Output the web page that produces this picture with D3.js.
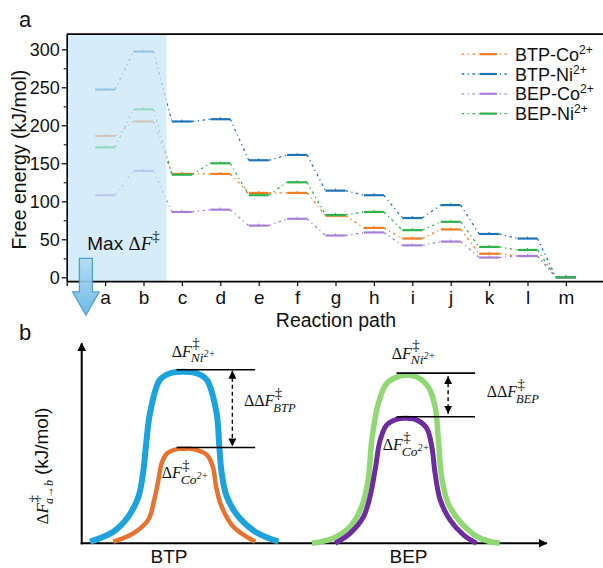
<!DOCTYPE html>
<html>
<head>
<meta charset="utf-8">
<script src="https://cdn.jsdelivr.net/npm/d3@7"></script>
<style>
  body { margin: 0; background: #fff; }
  svg { display: block; }
</style>
</head>
<body>
<svg id="fig" width="603" height="568"></svg>
<script>
// ---------- Panel a: free-energy profiles along the reaction path ----------
const categories = ["a", "b", "c", "d", "e", "f", "g", "h", "i", "j", "k", "l", "m"];
const btpCo = [186, 205, 136, 136, 111, 111, 81, 65, 51, 63, 31, 28, 0];
const btpNi = [247, 297, 205, 208, 154, 161, 114, 108, 78, 95, 57, 51, 0];
const bepCo = [108, 140, 86, 89, 68, 77, 55, 59, 42, 47, 26, 28, 0];
const bepNi = [171, 221, 135, 150, 108, 125, 82, 86, 62, 73, 40, 36, 0];
const seriesNames = ["BTP-Co", "BTP-Ni", "BEP-Co", "BEP-Ni"];
const seriesValues = [btpCo, btpNi, bepCo, bepNi];
const seriesColors = ["#f47c20", "#1f73b7", "#a680d8", "#2db34a"];
const yTicks = [0, 50, 100, 150, 200, 250, 300];
const yMinorTicks = [25, 75, 125, 175, 225, 275];
const maxStepSpan = [0, 2.6];   // highlighted a→b step, in path-index units

// ---------- Panel b: schematic barrier profiles (0–100 schematic units) ----------
const profileBtpNi = [[1.8,0.8],[6.8,5.8],[10.0,13.3],[12.2,23.3],[13.2,35.2],[13.8,48.2],[14.7,65.2],[16.8,81.7],[19.0,85.0],[21.8,85.8],[24.7,85.0],[26.9,81.7],[29.0,65.2],[29.6,48.2],[30.1,35.2],[31.2,23.3],[33.7,13.3],[37.3,5.8],[42.3,0.8]];
const profileBtpCo = [[6.8,0.8],[11.1,5.0],[14.3,11.7],[15.6,21.7],[16.5,31.7],[17.2,40.0],[18.4,45.0],[20.8,47.2],[22.2,47.3],[23.7,47.2],[26.9,44.2],[28.2,38.3],[28.9,28.3],[30.1,18.3],[32.6,8.3],[37.3,0.8]];
const profileBepNi = [[49.5,0],[54.1,2.5],[57.7,8.3],[60.2,18.3],[61.6,31.7],[62.4,51.7],[63.8,70.0],[65.6,80.0],[68.5,83.7],[69.9,84.2],[72.0,83.3],[74.5,78.3],[76.0,68.3],[76.7,51.7],[77.4,33.3],[78.8,20.0],[81.7,10.0],[85.7,2.5],[89.9,0]];
const profileBepCo = [[54.5,0],[57.7,5.0],[60.6,13.3],[62.0,23.3],[63.1,36.7],[64.2,51.7],[65.6,59.2],[67.7,62.0],[69.9,62.5],[72.0,61.7],[74.2,57.5],[75.3,48.3],[76.0,35.0],[77.1,21.7],[79.2,11.7],[82.1,4.2],[84.9,0]];
const profileGroups = ["BTP", "BEP"];

const SANS = "'Liberation Sans', Arial, sans-serif";
const SERIF = "'Liberation Serif', 'Times New Roman', serif";

const svg = d3.select("#fig");
const defs = svg.append("defs");

// ================= Panel a =================
const x = d3.scaleLinear().domain([0, 14]).range([66.7, 604.3]);
const y = d3.scaleLinear().domain([-5, 320]).range([281.1, 34.1]);
const half = 0.26;   // half-width of each level bar, in path-index units
const dashDot = "2.5,3.5,1.2,3.5";

const gA = svg.append("g");

seriesValues.forEach((vals, s) => {
  const col = seriesColors[s];
  const g = gA.append("g");
  // dash-dot connectors between consecutive states
  d3.range(vals.length - 1).forEach(i => {
    g.append("line")
      .attr("x1", x(i + 1 + half)).attr("y1", y(vals[i]))
      .attr("x2", x(i + 2 - half)).attr("y2", y(vals[i + 1]))
      .attr("stroke", col).attr("stroke-width", 1.3)
      .attr("stroke-dasharray", dashDot);
  });
  // level bars
  vals.forEach((v, i) => {
    g.append("line")
      .attr("x1", x(i + 1 - half)).attr("x2", x(i + 1 + half))
      .attr("y1", y(v)).attr("y2", y(v))
      .attr("stroke", col).attr("stroke-width", 2.2);
    g.append("line")
      .attr("x1", x(i + 1)).attr("x2", x(i + 1))
      .attr("y1", y(v) - 2).attr("y2", y(v))
      .attr("stroke", col).attr("stroke-width", 1);
  });
});

// highlighted rate-limiting step
gA.append("rect")
  .attr("x", x(maxStepSpan[0])).attr("y", y(320))
  .attr("width", x(maxStepSpan[1]) - x(maxStepSpan[0]))
  .attr("height", y(-5) - y(320))
  .attr("fill", "#c6e4f5").attr("opacity", 0.72);

// axes
const yAxis = gA.append("g").attr("transform", `translate(${x(0)},0)`)
  .call(d3.axisLeft(y).tickValues(yTicks).tickSize(5).tickSizeOuter(0).tickPadding(2));
gA.append("g").attr("transform", `translate(${x(0)},0)`)
  .call(d3.axisLeft(y).tickValues(yMinorTicks).tickSize(3).tickFormat(""))
  .call(g => g.select(".domain").remove());
const xAxis = gA.append("g").attr("transform", `translate(0,${y(-5)})`)
  .call(d3.axisBottom(x).tickValues(d3.range(0, 14)).tickSize(5).tickSizeOuter(0).tickPadding(4)
    .tickFormat(i => categories[i - 1] || ""));
[yAxis, xAxis].forEach(a => {
  a.select(".domain").attr("stroke-width", 1.6);
  a.selectAll(".tick line").attr("stroke-width", 1.2);
  a.selectAll("text").attr("font-family", SANS).attr("fill", "#111");
});
yAxis.selectAll("text").attr("font-size", 18);
xAxis.selectAll("text").attr("font-size", 19);

// top frame
gA.append("line")
  .attr("x1", x(0)).attr("x2", x(14)).attr("y1", y(320)).attr("y2", y(320))
  .attr("stroke", "#000").attr("stroke-width", 1.6);

// axis titles
gA.append("text")
  .attr("transform", `translate(26,${(y(-5) + y(320)) / 2 + 2}) rotate(-90)`)
  .attr("text-anchor", "middle").attr("font-family", SANS).attr("font-size", 19.5)
  .attr("fill", "#111").text("Free energy (kJ/mol)");
gA.append("text")
  .attr("x", 336).attr("y", 327).attr("text-anchor", "middle")
  .attr("font-family", SANS).attr("font-size", 19.5).attr("fill", "#111")
  .text("Reaction path");

// panel letter
svg.append("text").attr("x", 19).attr("y", 27).attr("font-family", SANS)
  .attr("font-size", 22).attr("fill", "#111").text("a");

// legend
const leg = gA.append("g");
seriesNames.forEach((name, s) => {
  const base = 60.7 + s * 19.8;
  const ly = base - 6.5;
  leg.append("line").attr("x1", 461.7).attr("x2", 506.7).attr("y1", ly).attr("y2", ly)
    .attr("stroke", seriesColors[s]).attr("stroke-width", 1.3).attr("stroke-dasharray", dashDot);
  leg.append("line").attr("x1", 480).attr("x2", 497).attr("y1", ly).attr("y2", ly)
    .attr("stroke", seriesColors[s]).attr("stroke-width", 2.2);
  const t = leg.append("text").attr("x", 515).attr("y", base)
    .attr("font-family", SANS).attr("font-size", 18).attr("fill", "#111");
  t.append("tspan").text(name);
  t.append("tspan").attr("dy", -7).attr("font-size", 12).text("2+");
});

// "Max ΔF‡" annotation
const maxLbl = gA.append("text").attr("x", 87.3).attr("y", 250)
  .attr("font-size", 19).attr("fill", "#111");
maxLbl.append("tspan").attr("font-family", SANS).text("Max ");
maxLbl.append("tspan").attr("font-family", SERIF).text("Δ");
maxLbl.append("tspan").attr("font-family", SERIF).attr("font-style", "italic").text("F");
maxLbl.append("tspan").attr("font-family", SERIF).attr("font-size", 15).attr("dy", -9).text("‡");

// downward arrow
const grad = defs.append("linearGradient").attr("id", "arrowFill")
  .attr("x1", 0).attr("y1", 0).attr("x2", 0).attr("y2", 1);
grad.append("stop").attr("offset", "0%").attr("stop-color", "#b5dcf3");
grad.append("stop").attr("offset", "100%").attr("stop-color", "#5fb2e3");
const ax = x(0.5), aTop = y(25), aNeck = aTop + 33.5, aTip = aTop + 57;
const arrowPath = d3.path();
arrowPath.moveTo(ax - 6.5, aTop);
arrowPath.lineTo(ax + 6.5, aTop);
arrowPath.lineTo(ax + 6.5, aNeck);
arrowPath.lineTo(ax + 13.3, aNeck);
arrowPath.lineTo(ax, aTip);
arrowPath.lineTo(ax - 13.3, aNeck);
arrowPath.lineTo(ax - 6.5, aNeck);
arrowPath.closePath();
svg.append("path").attr("d", arrowPath.toString())
  .attr("fill", "url(#arrowFill)").attr("stroke", "#3d9ad4").attr("stroke-width", 1.3)
  .attr("opacity", 0.9);

// ================= Panel b =================
const bx = d3.scaleLinear().domain([0, 100]).range([81.7, 546.7]);
const by = d3.scaleLinear().domain([0, 100]).range([543.3, 343.3]);
const gB = svg.append("g");

svg.append("text").attr("x", 19).attr("y", 340).attr("font-family", SANS)
  .attr("font-size", 22).attr("fill", "#111").text("b");

// axes with arrowheads
defs.append("marker").attr("id", "axisHead").attr("viewBox", "0 0 10 10")
  .attr("refX", 9).attr("refY", 5).attr("markerWidth", 9).attr("markerHeight", 9)
  .attr("markerUnits", "userSpaceOnUse").attr("orient", "auto")
  .append("path").attr("d", "M0,0 L10,5 L0,10 Z").attr("fill", "#000");
gB.append("line").attr("x1", bx(0)).attr("x2", bx(0)).attr("y1", by(0) + 1).attr("y2", by(100))
  .attr("stroke", "#000").attr("stroke-width", 2).attr("marker-end", "url(#axisHead)");
gB.append("line").attr("x1", bx(0) - 1).attr("x2", bx(100)).attr("y1", by(0)).attr("y2", by(0))
  .attr("stroke", "#000").attr("stroke-width", 2).attr("marker-end", "url(#axisHead)");

const profLine = d3.line().x(d => bx(d[0])).y(d => by(d[1])).curve(d3.curveCatmullRom.alpha(0.5));
const profiles = [
  { pts: profileBtpNi, color: "#1ca2dd", w: 6 },
  { pts: profileBtpCo, color: "#e9722e", w: 4.5 },
  { pts: profileBepNi, color: "#8fd873", w: 5.5 },
  { pts: profileBepCo, color: "#6e2ca0", w: 5 }
];
profiles.forEach(p => {
  gB.append("path").attr("d", profLine(p.pts)).attr("fill", "none")
    .attr("stroke", p.color).attr("stroke-width", p.w);
});

// barrier reference levels and ΔΔF arrows
defs.append("marker").attr("id", "dHead").attr("viewBox", "0 0 10 10")
  .attr("refX", 10).attr("refY", 5).attr("markerWidth", 8).attr("markerHeight", 9)
  .attr("markerUnits", "userSpaceOnUse").attr("orient", "auto-start-reverse")
  .append("path").attr("d", "M0,0 L10,5 L0,10 Z").attr("fill", "#000");

const levelSpans = [[20.4, 37.3], [67.7, 84.6]];
const arrowPos = [32.4, 78.8];
const pairs = [[profiles[0], profiles[1]], [profiles[2], profiles[3]]];
const levels = pairs.map((pair, k) => {
  const [ni, co] = pair;
  const topY = by(d3.max(ni.pts, d => d[1])) - ni.w / 2 + 1;
  const botY = by(d3.max(co.pts, d => d[1])) - co.w / 2 + 1;
  [topY, botY].forEach(yy => {
    gB.append("line").attr("x1", bx(levelSpans[k][0])).attr("x2", bx(levelSpans[k][1]))
      .attr("y1", yy).attr("y2", yy).attr("stroke", "#000").attr("stroke-width", 1.6);
  });
  const inset = k === 0 ? 1 : 3;
  gB.append("line").attr("x1", bx(arrowPos[k])).attr("x2", bx(arrowPos[k]))
    .attr("y1", topY + inset).attr("y2", botY - inset)
    .attr("stroke", "#000").attr("stroke-width", 1.4).attr("stroke-dasharray", "4,3")
    .attr("marker-start", "url(#dHead)").attr("marker-end", "url(#dHead)");
  return { topY, botY };
});

// math-style labels: Δ…F with ‡ superscript and an italic subscript
function mathLabel(parent, x0, y0, opts) {
  const g = parent.append("g");
  const size = opts.size || 16;
  const base = g.append("text").attr("x", x0).attr("y", y0)
    .attr("font-family", SERIF).attr("font-size", size).attr("fill", "#111");
  base.append("tspan").text(opts.delta);
  base.append("tspan").attr("font-style", "italic").text("F");
  const w = base.node().getComputedTextLength();
  g.append("text").attr("x", x0 + w + 0.5).attr("y", y0 - 8.5)
    .attr("font-family", SERIF).attr("font-size", 15).attr("fill", "#111").text("‡");
  const sub = g.append("text").attr("x", x0 + w - 1).attr("y", y0 + 5.5)
    .attr("font-family", SERIF).attr("font-style", "italic")
    .attr("font-size", opts.subSize || 13.5).attr("fill", "#111");
  sub.append("tspan").text(opts.sub);
  if (opts.subSup) sub.append("tspan").attr("dy", -5).attr("font-size", 10).text(opts.subSup);
  return g;
}

mathLabel(gB, 171.7, levels[0].topY - 13, { delta: "Δ", sub: "Ni", subSup: "2+" });
mathLabel(gB, 161.7, 478, { delta: "Δ", sub: "Co", subSup: "2+" });
mathLabel(gB, 244, 406, { delta: "ΔΔ", sub: "BTP", subSize: 12.5 });
mathLabel(gB, 391.7, levels[1].topY - 14.5, { delta: "Δ", sub: "Ni", subSup: "2+" });
mathLabel(gB, 382.7, 450, { delta: "Δ", sub: "Co", subSup: "2+" });
mathLabel(gB, 486.7, 397, { delta: "ΔΔ", sub: "BEP", subSize: 12.5 });

// group labels under the profiles
gB.append("text").attr("x", 169).attr("y", 563).attr("text-anchor", "middle")
  .attr("font-family", SANS).attr("font-size", 19).attr("fill", "#111").text(profileGroups[0]);
gB.append("text").attr("x", 408.5).attr("y", 563).attr("text-anchor", "middle")
  .attr("font-family", SANS).attr("font-size", 19).attr("fill", "#111").text(profileGroups[1]);

// rotated y title for panel b
const yT = gB.append("g").attr("transform", "translate(48,466) rotate(-90)");
const yTin = yT.append("g");
const yBase = yTin.append("text").attr("x", 0).attr("y", 0)
  .attr("font-family", SERIF).attr("font-size", 17).attr("fill", "#111");
yBase.append("tspan").text("Δ");
yBase.append("tspan").attr("font-style", "italic").text("F");
const wF = yBase.node().getComputedTextLength();
yTin.append("text").attr("x", wF + 0.5).attr("y", -9.5).attr("font-family", SERIF)
  .attr("font-size", 15).attr("fill", "#111").text("‡");
const ySub = yTin.append("text").attr("x", wF - 1).attr("y", 5).attr("font-family", SERIF)
  .attr("font-style", "italic").attr("font-size", 12).attr("fill", "#111").text("a→b");
const wSub = ySub.node().getComputedTextLength();
const yUnit = yTin.append("text").attr("x", wF + wSub + 4).attr("y", 0)
  .attr("font-family", SANS).attr("font-size", 19).attr("fill", "#111").text("(kJ/mol)");
const total = wF + wSub + 4 + yUnit.node().getComputedTextLength();
yTin.attr("transform", `translate(${-total / 2},0)`);
</script>
</body>
</html>
